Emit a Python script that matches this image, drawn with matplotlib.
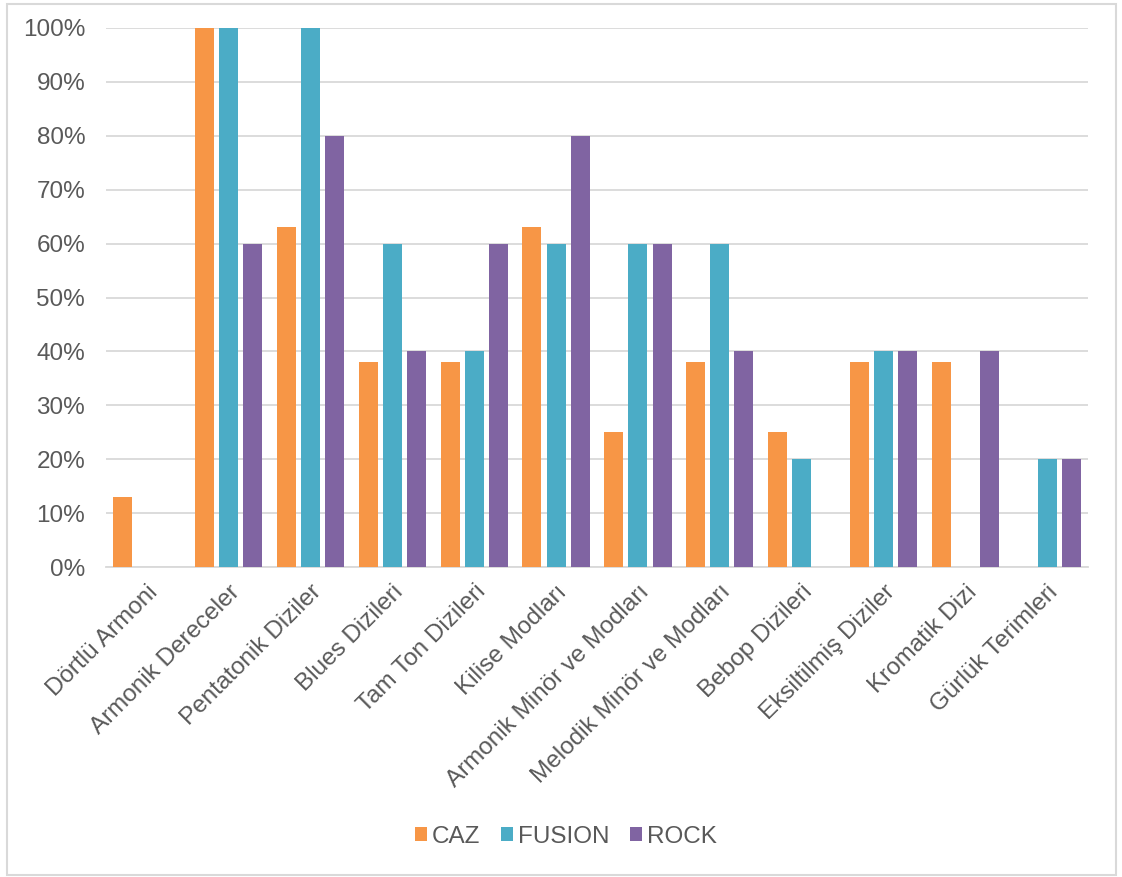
import matplotlib
matplotlib.use("Agg")
import matplotlib.pyplot as plt
import numpy as np
from matplotlib.patches import Rectangle
from matplotlib.ticker import PercentFormatter

categories = ["Dörtlü Armoni", "Armonik Dereceler", "Pentatonik Diziler", "Blues Dizileri",
              "Tam Ton Dizileri", "Kilise Modları", "Armonik Minör ve Modları",
              "Melodik Minör ve Modları", "Bebop Dizileri", "Eksiltilmiş Diziler",
              "Kromatik Dizi", "Gürlük Terimleri"]
caz = [13, 100, 63, 38, 38, 63, 25, 38, 25, 38, 38, 0]
fusion = [0, 100, 100, 60, 40, 60, 60, 60, 20, 40, 0, 20]
rock = [0, 60, 80, 40, 60, 80, 60, 40, 0, 40, 40, 20]
series_names = ["CAZ", "FUSION", "ROCK"]
colors = ["#F79646", "#4BACC6", "#8064A2"]
yticks = [0, 10, 20, 30, 40, 50, 60, 70, 80, 90, 100]

plt.rcParams['font.family'] = ['Liberation Sans', 'DejaVu Sans']
text_color = "#595959"
fs = 17.5

fig = plt.figure(figsize=(11.22, 8.77), dpi=100)
ax = fig.add_axes([106/1122, 1-567/877, (1088-106)/1122, (567-28)/877])

x = np.arange(len(categories))
width = 0.232
offset = 0.295
for i, (vals, name, c) in enumerate(zip([caz, fusion, rock], series_names, colors)):
    ax.bar(x + (i-1)*offset, np.array(vals)/100, width, color=c, label=name, zorder=3)

ax.set_xlim(-0.5, len(categories)-0.5)
ax.set_ylim(0, 1)
ax.set_yticks(np.array(yticks)/100)
ax.yaxis.set_major_formatter(PercentFormatter(1.0, decimals=0))
ax.grid(axis='y', color="#D9D9D9", linewidth=1.3, zorder=0)
for s in ['top', 'right', 'left']:
    ax.spines[s].set_visible(False)
ax.spines['bottom'].set_color("#D9D9D9")
ax.spines['bottom'].set_linewidth(1.3)
ax.tick_params(axis='both', length=0, labelsize=fs, colors=text_color)
ax.tick_params(axis='y', pad=15)
ax.set_xticks(x)
ax.set_xticklabels(categories, rotation=45, ha='right', rotation_mode='anchor')
ax.tick_params(axis='x', pad=10)

leg = fig.legend(loc='center', bbox_to_anchor=(566/1122, 1-837/877), ncol=3, frameon=False,
                 fontsize=fs, handlelength=0.5, handleheight=0.5, handletextpad=0.2,
                 columnspacing=0.85, labelcolor=text_color)

fig.patches.append(Rectangle((7/1122, 2/877), (1116-7)/1122, (873-2)/877,
                             transform=fig.transFigure, fill=False,
                             edgecolor="#D9D9D9", linewidth=1.5))

fig.savefig("out.png", dpi=100)
